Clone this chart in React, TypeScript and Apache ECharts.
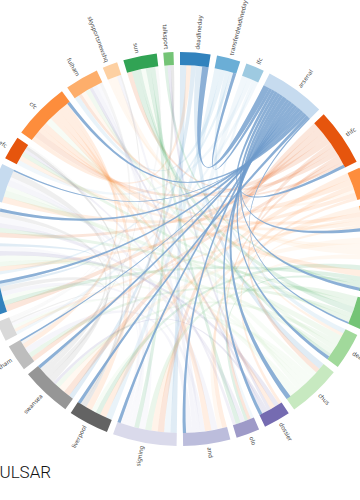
import React, { useEffect, useRef } from 'react';
import * as echarts from 'echarts';

const NODES = [
  'deadlineday', 'transferdeadlineday', 'lfc', 'arsenal', 'thfc', 'mufc', 'avfc', 'nufc',
  'whufc', 'saints', 'deadline', 'chus', 'dossier', 'olo', 'and', 'signing',
  'liverpool', 'swansea', 'westham', 'everton', 'mcfc', 'spurs', 'lufc', 'bbcsport',
  'efc', 'cfc', 'fulham', 'skysportsnewshq', 'sun', 'talksport',
];

const PALETTE = [
  '#3182bd', '#6baed6', '#9ecae1', '#c6dbef', '#e6550d', '#fd8d3c', '#fdae6b', '#fdd0a2',
  '#31a354', '#74c476', '#a1d99b', '#c7e9c0', '#756bb1', '#9e9ac8', '#bcbddc', '#dadaeb',
  '#636363', '#969696', '#bdbdbd', '#d9d9d9',
];

const FOCUS = 3; // arsenal
const FOCUS_RIBBON = '#6f9bcb';

const LINK_SOURCE = [
  0, 25, 0, 0, 1, 1, 1, 1, 2, 2, 2, 2,
  4, 4, 4, 4, 4, 4, 4, 4, 4, 4,
  5, 5, 5, 27, 5, 5, 6, 25, 6, 6, 6, 7, 7, 27, 7,
  8, 25, 8, 8, 8, 9, 9, 28, 9, 9, 10, 10, 10, 10, 28,
  11, 11, 11, 11, 11, 11, 11, 12, 25, 12, 12, 12, 13, 28, 13,
  14, 25, 14, 14, 14, 14, 15, 28, 15, 15, 15, 15,
  25, 16, 16, 17, 17, 17, 17, 17, 25, 18, 19, 19, 20,
  3, 3, 3, 3, 3, 3, 3, 3, 3, 3, 3, 3, 3, 3, 3, 3, 3, 3,
];
const LINK_TARGET = [
  15, 0, 17, 11, 16, 26, 10, 21, 15, 24, 13, 19,
  15, 17, 20, 25, 11, 22, 28, 13, 18, 26,
  16, 23, 14, 5, 21, 12, 15, 6, 19, 24, 10, 17, 26, 7, 14,
  16, 8, 20, 13, 29, 15, 22, 9, 18, 24, 23, 17, 26, 21, 10,
  25, 16, 20, 23, 28, 19, 21, 21, 12, 29, 17, 26, 22, 13, 24,
  23, 14, 20, 27, 26, 18, 22, 15, 21, 26, 23, 19,
  16, 24, 29, 23, 20, 22, 27, 19, 18, 26, 28, 24, 21,
  0, 1, 4, 6, 8, 10, 11, 12, 14, 15, 17, 18, 20, 22, 23, 25, 16, 9,
];
const LINK_VALUE = [
  2, 1.5, 1.5, 2, 2, 1.5, 1.5, 1, 2, 1.5, 1, 1,
  2, 2, 2, 2, 1.5, 1.5, 1.5, 1, 1.5, 1,
  2, 2, 1.5, 1, 1.5, 1, 2, 1.5, 1, 1.5, 1, 2, 1.5, 2, 1.5,
  1.5, 2, 1.5, 1, 1, 2, 1.5, 2, 1.5, 1.5, 2, 1.5, 1.5, 1.5, 1,
  2, 1.5, 1.5, 1.5, 1.5, 1, 2, 1.5, 1.5, 1, 1, 1, 1.5, 1.5, 1,
  2, 2, 1.5, 1, 1.5, 2, 2, 1.5, 1.5, 1, 1, 1,
  2, 1, 1, 2, 1.5, 1.5, 0.5, 0.5, 1.5, 1, 1, 0.5, 1,
  2, 1, 1, 1, 1, 1, 1.5, 1, 1, 1, 1, 0.5, 1, 1, 0.5, 1, 1, 0.5,
];

const PAD = 1.9;
const CENTER = [180, 249];
const RADIUS = [184, 197];

export default function App() {
  const ref = useRef<HTMLDivElement>(null);
  useEffect(() => {
    if (!ref.current) return;
    const chart = echarts.init(ref.current, undefined, { renderer: 'svg' });

    const nodeSum = NODES.map(() => 0);
    LINK_SOURCE.forEach((s, i) => {
      nodeSum[s] += LINK_VALUE[i];
      nodeSum[LINK_TARGET[i]] += LINK_VALUE[i];
    });
    const total = nodeSum.reduce((a, b) => a + b, 0);
    const padUnits = (PAD * total) / (360 - NODES.length * PAD);

    const isFocus = (i: number) => LINK_SOURCE[i] === FOCUS || LINK_TARGET[i] === FOCUS;

    const baseLinks = LINK_SOURCE.map((s, i) => ({
      source: NODES[s],
      target: NODES[LINK_TARGET[i]],
      value: LINK_VALUE[i],
      lineStyle: { color: 'source', opacity: isFocus(i) ? 0.5 : 0.15 },
    }));
    const focusLinks = LINK_SOURCE.map((s, i) => ({
      source: NODES[s],
      target: NODES[LINK_TARGET[i]],
      value: LINK_VALUE[i],
      lineStyle: isFocus(i)
        ? { color: 'source', opacity: 0.75, borderColor: '#3e6fa3', borderWidth: 0.8 }
        : { color: 'source', opacity: 0 },
    }));

    const common = {
      type: 'chord',
      center: CENTER,
      radius: RADIUS,
      startAngle: 90,
      clockwise: true,
      padAngle: PAD,
      silent: true,
      label: { show: false },
    };

    chart.setOption({
      animation: false,
      series: [
        {
          ...common,
          itemStyle: { borderRadius: 0 },
          data: NODES.map((name, i) => ({ name, itemStyle: { color: PALETTE[i % 20] } })),
          links: baseLinks,
        },
        {
          ...common,
          z: 3,
          itemStyle: { borderRadius: 0, opacity: 0 },
          data: NODES.map((name, i) => ({
            name,
            itemStyle: { color: i === FOCUS ? FOCUS_RIBBON : PALETTE[i % 20], opacity: 0 },
          })),
          links: focusLinks,
        },
        {
          type: 'pie',
          center: CENTER,
          radius: RADIUS,
          startAngle: 90 + PAD / 2,
          clockwise: true,
          silent: true,
          avoidLabelOverlap: false,
          z: 1,
          itemStyle: { color: 'rgba(0,0,0,0)' },
          label: {
            show: true,
            position: 'outside',
            rotate: 'radial',
            fontSize: 6,
            color: '#444',
            fontFamily: 'Noto Sans',
            distanceToLabelLine: 2,
          },
          labelLine: { show: false, length: 3, length2: 0 },
          data: NODES.map((name, i) => ({ name, value: nodeSum[i] + padUnits })),
        },
      ],
      graphic: [
        {
          type: 'text',
          left: -11,
          top: 463,
          style: {
            text: 'PULSAR',
            fontSize: 17,
            fontFamily: 'Roboto',
            fontWeight: 300,
            fill: '#111',
          },
        },
      ],
    });
    return () => chart.dispose();
  }, []);
  return (
    <div
      ref={ref}
      style={{ position: 'fixed', left: 0, top: 0, width: 360, height: 500, background: '#fff' }}
    />
  );
}
